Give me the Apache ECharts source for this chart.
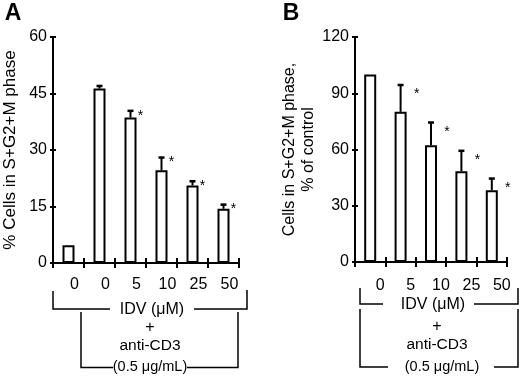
<!DOCTYPE html>
<html>
<head>
    <meta charset="utf-8">
    <style type="text/css">
        html,body { margin: 0px; padding: 0px; background: #fff; }
        #chart { width: 520px; height: 378px; }
    </style>
    <script src="https://cdn.jsdelivr.net/npm/echarts@6/dist/echarts.min.js"></script>
</head>
<body>
    <div id="chart"></div>
    <script type="text/javascript">
        // panel A: % cells in S+G2+M phase
        var catA = ['0', '0', '5', '10', '25', '50'];
        var valA = [4.7, 46.3, 38.6, 24.6, 20.6, 14.4];
        var errTopA = [4.7, 47.0, 40.4, 28.0, 21.7, 15.5];
        var starA = ['', '', '*', '*', '*', '*'];
        var yTicksA = { min: 0, max: 60, interval: 15 };

        // panel B: % of control
        var catB = ['0', '5', '10', '25', '50'];
        var valB = [100, 80.1, 62.3, 48.4, 38.3];
        var errTopB = [100, 94.4, 74.4, 59.3, 44.5];
        var starB = ['', '*', '*', '*', '*'];
        var yTicksB = { min: 0, max: 120, interval: 30 };

        var FONT = '"Liberation Sans", Arial, Helvetica, sans-serif';
        var INK = '#000';

        var myChart = echarts.init(document.getElementById('chart'));

        function catAxis(grid, data, inner, padLeft, margin) {
            return {
                type: 'category', gridIndex: grid, data: data, position: 'bottom',
                axisLine: { show: !inner, lineStyle: { color: INK, width: 2 } },
                axisTick: { show: true, inside: inner, length: 5, alignWithLabel: false,
                    lineStyle: { color: INK, width: 2 } },
                axisLabel: { show: !inner, color: INK, fontSize: 16, fontFamily: FONT,
                    margin: margin, padding: [0, 0, 0, padLeft] },
                splitLine: { show: false }
            };
        }
        function valAxis(grid, t, inner, name, gap, nameSize) {
            return {
                type: 'value', gridIndex: grid, min: t.min, max: t.max, interval: t.interval,
                position: 'left',
                name: inner ? '' : name, nameLocation: 'middle', nameGap: gap,
                nameTextStyle: { color: INK, fontSize: nameSize, fontFamily: FONT, lineHeight: 19 },
                axisLine: { show: !inner, lineStyle: { color: INK, width: 2 } },
                axisTick: { show: true, inside: inner, length: 3, lineStyle: { color: INK, width: 2 } },
                axisLabel: { show: !inner, color: INK, fontSize: 16, fontFamily: FONT, margin: 6 },
                splitLine: { show: false }
            };
        }
        function barSeries(xi, yi, vals) {
            return {
                type: 'bar', xAxisIndex: xi, yAxisIndex: yi, data: vals, barWidth: 12,
                itemStyle: { color: '#fff', borderColor: INK, borderWidth: 2 }
            };
        }
        // error bar (upper only) + significance star
        function errSeries(xi, yi, vals, tops, stars, dx, dy) {
            return {
                type: 'custom', xAxisIndex: xi, yAxisIndex: yi, z: 5,
                data: vals.map(function (v, i) { return [i, v, tops[i]]; }),
                renderItem: function (params, api) {
                    var base = api.coord([api.value(0), api.value(1)]);
                    var top = api.coord([api.value(0), api.value(2)]);
                    var kids = [];
                    if (base[1] - top[1] > 0.5) {
                        kids.push({ type: 'line', shape: { x1: base[0], y1: base[1], x2: top[0], y2: top[1] },
                            style: { stroke: INK, lineWidth: 2 } });
                        kids.push({ type: 'line', shape: { x1: top[0] - 3, y1: top[1], x2: top[0] + 3, y2: top[1] },
                            style: { stroke: INK, lineWidth: 2.5 } });
                    }
                    var s = stars[params.dataIndex];
                    if (s) {
                        kids.push({ type: 'text', x: base[0] + 7 + dx, y: top[1] + dy,
                            style: { text: s, fill: INK, font: '14px ' + FONT, align: 'center', verticalAlign: 'middle' } });
                    }
                    return { type: 'group', children: kids };
                }
            };
        }

        function txt(x, y, s, size, bold) {
            return { type: 'text', x: x, y: y, style: { text: s, fill: INK,
                font: (bold ? 'bold ' : '') + size + 'px ' + FONT, align: 'center', verticalAlign: 'middle' } };
        }
        function pl(points) {
            return { type: 'polyline', shape: { points: points }, style: { stroke: INK, lineWidth: 1.5, fill: null } };
        }

        var option = {
            animation: false,
            backgroundColor: '#fff',
            grid: [
                { left: 51, top: 37, width: 188, height: 226 },
                { left: 355, top: 37, width: 152, height: 225 }
            ],
            xAxis: [
                catAxis(0, catA, false, 12, 14), catAxis(0, catA, true, 0, 0),
                catAxis(1, catB, false, 20, 16), catAxis(1, catB, true, 0, 0)
            ],
            yAxis: [
                valAxis(0, yTicksA, false, '% Cells in S+G2+M phase', 33, 17), valAxis(0, yTicksA, true, '', 0, 17),
                valAxis(1, yTicksB, false, 'Cells in S+G2+M phase,\n% of control', 37, 16), valAxis(1, yTicksB, true, '', 0, 16)
            ],
            series: [
                barSeries(0, 0, valA), errSeries(0, 0, valA, errTopA, starA, 3, 5),
                barSeries(2, 2, valB), errSeries(2, 2, valB, errTopB, starB, 9, 9.5)
            ],
            graphic: [
                txt(13, 14, 'A', 23, true),
                txt(291, 14, 'B', 23, true),
                // panel A treatment brackets
                pl([[53, 291], [53, 309], [110, 309]]), pl([[194, 309], [247, 309], [247, 290]]),
                txt(152, 310, 'IDV (\u03bcM)', 16),
                pl([[81, 312], [81, 367.5], [113, 367.5]]), pl([[187, 367.5], [238, 367.5], [238, 312]]),
                txt(150, 328, '+', 16), txt(150, 346, 'anti-CD3', 15.5), txt(150, 367, '(0.5 \u03bcg/mL)', 14.5),
                // panel B treatment brackets
                pl([[360, 288], [360, 304], [383, 304]]), pl([[474, 304], [518, 304], [518, 288]]),
                txt(433, 305, 'IDV (\u03bcM)', 16),
                pl([[360, 309], [360, 367], [388, 367]]), pl([[494, 367], [518, 367], [518, 309]]),
                txt(437, 327, '+', 16), txt(437, 345, 'anti-CD3', 15.5), txt(442, 367, '(0.5 \u03bcg/mL)', 14.5)
            ]
        };

        myChart.setOption(option);
        window.onresize = myChart.resize;
    </script>
</body>
</html>
